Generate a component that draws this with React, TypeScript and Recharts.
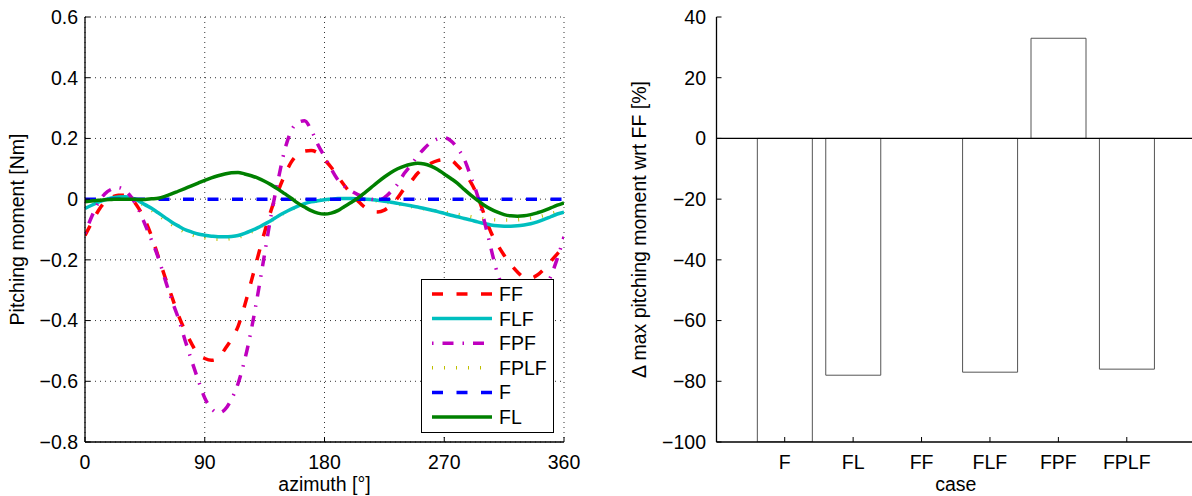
import React from 'react';
import {
  LineChart,
  Line,
  XAxis,
  YAxis,
  CartesianGrid,
  Legend,
  BarChart,
  Bar,
  ReferenceLine,
  Label,
} from 'recharts';

// ---------- Left panel data ----------
const AZIMUTH = [
  0, 5, 10, 15, 20, 25, 30, 35, 40, 45, 50, 55, 60, 65, 70, 75, 80, 85, 90, 95,
  100, 105, 110, 115, 120, 125, 130, 135, 140, 145, 150, 155, 160, 165, 170, 175,
  180, 185, 190, 195, 200, 205, 210, 215, 220, 225, 230, 235, 240, 245, 250, 255,
  260, 265, 270, 275, 280, 285, 290, 295, 300, 305, 310, 315, 320, 325, 330, 335,
  340, 345, 350, 355, 360,
];

const FF = [
  -0.12, -0.078, -0.038, -0.01, 0.006, 0.013, 0.013, 0.001, -0.028, -0.068,
  -0.122, -0.188, -0.255, -0.318, -0.38, -0.432, -0.475, -0.512, -0.525, -0.531,
  -0.525, -0.495, -0.462, -0.42, -0.35, -0.27, -0.188, -0.108, -0.035, 0.025,
  0.078, 0.122, 0.148, 0.158, 0.16, 0.152, 0.13, 0.105, 0.075, 0.045,
  0.018, -0.005, -0.026, -0.038, -0.042, -0.036, -0.02, 0.004, 0.035, 0.058,
  0.085, 0.103, 0.118, 0.127, 0.13, 0.128, 0.11, 0.085, 0.055, 0.01,
  -0.05, -0.108, -0.15, -0.185, -0.215, -0.24, -0.257, -0.26, -0.25, -0.23,
  -0.205, -0.18, -0.155,
];

const FLF = [
  -0.031, -0.02, -0.01, -0.002, 0.004, 0.007, 0.008, 0.004, -0.005, -0.018,
  -0.03, -0.045, -0.06, -0.075, -0.088, -0.1, -0.108, -0.115, -0.119, -0.122,
  -0.124, -0.124, -0.123, -0.12, -0.113, -0.104, -0.094, -0.082, -0.07, -0.056,
  -0.044, -0.033, -0.023, -0.015, -0.009, -0.005, -0.002, 0.0, 0.002, 0.002,
  0.002, 0.001, 0.0, -0.001, -0.004, -0.007, -0.01, -0.014, -0.018, -0.022,
  -0.026, -0.031, -0.036, -0.041, -0.047, -0.053, -0.058, -0.064, -0.069, -0.075,
  -0.08, -0.085, -0.088, -0.089, -0.089, -0.088, -0.085, -0.081, -0.075, -0.067,
  -0.058, -0.049, -0.043,
];

const FPF = [
  -0.113, -0.058, -0.012, 0.018, 0.033, 0.038, 0.028, 0.005, -0.032, -0.082,
  -0.135, -0.192, -0.262, -0.33, -0.39, -0.462, -0.53, -0.595, -0.655, -0.69,
  -0.704, -0.694, -0.66, -0.608, -0.53, -0.43, -0.31, -0.18, -0.05, 0.06,
  0.16, 0.225, 0.252, 0.258, 0.228, 0.18, 0.14, 0.1, 0.064, 0.042,
  0.027, 0.015, 0.006, 0.0, -0.003, 0.005, 0.025, 0.05, 0.085, 0.112,
  0.142, 0.167, 0.187, 0.198, 0.202, 0.192, 0.168, 0.132, 0.074, 0.012,
  -0.07, -0.16, -0.245, -0.295, -0.33, -0.35, -0.355, -0.35, -0.33, -0.3,
  -0.255, -0.195, -0.124,
];

const FPLF = [
  -0.025, -0.016, -0.008, -0.001, 0.004, 0.007, 0.007, 0.002, -0.008, -0.022,
  -0.036, -0.052, -0.068, -0.083, -0.096, -0.108, -0.117, -0.124, -0.128, -0.131,
  -0.132, -0.132, -0.13, -0.126, -0.118, -0.108, -0.097, -0.084, -0.071, -0.057,
  -0.045, -0.034, -0.024, -0.016, -0.01, -0.006, -0.003, -0.001, 0.0, 0.0,
  0.0, -0.001, -0.002, -0.004, -0.006, -0.009, -0.012, -0.016, -0.02, -0.024,
  -0.028, -0.032, -0.036, -0.04, -0.043, -0.046, -0.05, -0.054, -0.058, -0.062,
  -0.065, -0.067, -0.068, -0.069, -0.069, -0.068, -0.066, -0.063, -0.059, -0.054,
  -0.048, -0.042, -0.036,
];

const F = [
  0, 0, 0, 0, 0, 0, 0, 0, 0, 0, 0, 0, 0, 0, 0, 0, 0, 0, 0, 0, 0, 0, 0, 0, 0, 0,
  0, 0, 0, 0, 0, 0, 0, 0, 0, 0, 0, 0, 0, 0, 0, 0, 0, 0, 0, 0, 0, 0, 0, 0, 0, 0,
  0, 0, 0, 0, 0, 0, 0, 0, 0, 0, 0, 0, 0, 0, 0, 0, 0, 0, 0, 0, 0,
];

const FL = [
  -0.009, -0.006, -0.004, -0.002, -0.001, 0.0, 0.0, 0.0, -0.001, -0.001,
  0.001, 0.003, 0.009, 0.017, 0.026, 0.035, 0.044, 0.053, 0.062, 0.07,
  0.077, 0.083, 0.087, 0.088, 0.083, 0.077, 0.069, 0.059, 0.047, 0.033,
  0.018, 0.003, -0.013, -0.026, -0.038, -0.046, -0.049, -0.046, -0.038, -0.024,
  -0.011, 0.003, 0.02, 0.038, 0.056, 0.073, 0.088, 0.1, 0.109, 0.115,
  0.118, 0.116, 0.109, 0.098, 0.083, 0.068, 0.052, 0.032, 0.013, -0.004,
  -0.02, -0.033, -0.043, -0.051, -0.055, -0.056, -0.055, -0.051, -0.045, -0.038,
  -0.029, -0.02, -0.012,
];

const X_TICKS = [0, 90, 180, 270, 360];
const Y_TICKS = [-0.8, -0.6, -0.4, -0.2, 0, 0.2, 0.4, 0.6];

// ---------- Right panel data ----------
const CASES = ['F', 'FL', 'FF', 'FLF', 'FPF', 'FPLF'];
const DELTA = [-100, -78, 0, -77, 33, -76];
const BAR_Y_TICKS = [-100, -80, -60, -40, -20, 0, 20, 40];

const FONT = '"Liberation Sans", Arial, Helvetica, sans-serif';
const FS = 19.5;

const SERIES = [
  { key: 'FF', values: FF, color: '#ff0000', dash: '11 13.5' },
  { key: 'FLF', values: FLF, color: '#00bfbf', dash: undefined },
  { key: 'FPF', values: FPF, color: '#bf00bf', dash: '1.5 9 11 9' },
  { key: 'FPLF', values: FPLF, color: '#bfbf00', dash: '1 11' },
  { key: 'F', values: F, color: '#0000ff', dash: '11 13.5' },
  { key: 'FL', values: FL, color: '#008000', dash: undefined },
];
// drawing order (FPLF below FLF)
const DRAW_ORDER = ['FF', 'FPLF', 'FLF', 'FPF', 'F', 'FL'];

const lineData = AZIMUTH.map((az, i) => {
  const row: Record<string, number> = { az };
  SERIES.forEach((s) => {
    row[s.key] = s.values[i];
  });
  return row;
});

const barData = CASES.map((c, i) => ({ case: c, delta: DELTA[i] }));

const fmt = (v: number) => (v < 0 ? '\u2212' + String(Math.abs(v)) : String(v));

const tickStyle = { fill: '#000', fontSize: FS, fontFamily: FONT };
const axisLineStyle = { stroke: '#000', strokeWidth: 1.3 };
const tickLineStyle = { stroke: '#000', strokeWidth: 1 };

const renderLegend = () => {
  const top = 15;
  const step = 24.6;
  return (
    <div
      style={{
        width: 133,
        height: 154,
        border: '1.3px solid #000',
        boxSizing: 'border-box',
        background: '#fff',
      }}
    >
      <svg width={131} height={152} style={{ display: 'block' }}>
        {SERIES.map((s, i) => {
          const cy = top + i * step - 1;
          return (
            <g key={s.key}>
              <line
                x1={10}
                x2={70}
                y1={cy}
                y2={cy}
                stroke={s.color}
                strokeWidth={3.5}
                strokeDasharray={s.dash}
              />
              <text
                x={77}
                y={cy + 7}
                fontSize={FS}
                fontFamily={FONT}
                fill="#000"
              >
                {s.key}
              </text>
            </g>
          );
        })}
      </svg>
    </div>
  );
};

const xLabel = (text: string) => (props: any) => {
  const vb = props.viewBox || {};
  return (
    <text
      x={vb.x + vb.width / 2}
      y={vb.y + vb.height - 5}
      textAnchor="middle"
      fontSize={FS}
      fontFamily={FONT}
      fill="#000"
    >
      {text}
    </text>
  );
};

const yLabel = (text: string, dx: number) => (props: any) => {
  const vb = props.viewBox || {};
  const x = vb.x + dx;
  const y = vb.y + vb.height / 2;
  return (
    <text
      x={x}
      y={y}
      transform={`rotate(-90, ${x}, ${y})`}
      textAnchor="middle"
      fontSize={FS}
      fontFamily={FONT}
      fill="#000"
    >
      {text}
    </text>
  );
};

export default function App() {
  return (
    <div
      style={{
        position: 'absolute',
        left: 0,
        top: 0,
        width: 1192,
        height: 496,
        overflow: 'hidden',
        background: '#fff',
        fontFamily: FONT,
      }}
    >
      <div style={{ position: 'absolute', left: 0, top: 0 }}>
        <LineChart
          width={600}
          height={496}
          data={lineData}
          margin={{ top: 17, right: 36, bottom: 0, left: 0 }}
        >
          <CartesianGrid stroke="#333" strokeWidth={1} strokeDasharray="1 4" />
          <XAxis
            dataKey="az"
            type="number"
            domain={[0, 360]}
            ticks={X_TICKS}
            interval={0}
            height={54}
            tickSize={-5}
            tickMargin={18}
            tick={tickStyle}
            axisLine={axisLineStyle}
            tickLine={tickLineStyle}
            allowDataOverflow
          >
            <Label content={xLabel('azimuth [°]')} />
          </XAxis>
          <XAxis
            xAxisId="top"
            orientation="top"
            dataKey="az"
            type="number"
            domain={[0, 360]}
            ticks={X_TICKS}
            interval={0}
            height={0}
            tickSize={-5}
            tick={false}
            axisLine={axisLineStyle}
            tickLine={tickLineStyle}
            allowDataOverflow
          />
          <YAxis
            type="number"
            domain={[-0.8, 0.6]}
            ticks={Y_TICKS}
            interval={0}
            width={85}
            tickSize={-5}
            tickMargin={12}
            tick={tickStyle}
            tickFormatter={fmt}
            axisLine={axisLineStyle}
            tickLine={tickLineStyle}
            allowDataOverflow
          >
            <Label content={yLabel('Pitching moment [Nm]', 24)} />
          </YAxis>
          <YAxis
            yAxisId="right"
            orientation="right"
            type="number"
            domain={[-0.8, 0.6]}
            ticks={Y_TICKS}
            interval={0}
            width={0}
            tickSize={-5}
            tick={false}
            axisLine={axisLineStyle}
            tickLine={tickLineStyle}
            allowDataOverflow
          />
          {DRAW_ORDER.map((k) => {
            const s = SERIES.find((x) => x.key === k)!;
            return (
              <Line
                key={s.key}
                dataKey={s.key}
                type="monotone"
                stroke={s.color}
                strokeWidth={3.5}
                strokeDasharray={s.dash}
                dot={false}
                activeDot={false}
                isAnimationActive={false}
              />
            );
          })}
          <Legend
            layout="vertical"
            align="center"
            verticalAlign="middle"
            content={renderLegend}
            wrapperStyle={{
              position: 'absolute',
              left: 421,
              top: 279,
              width: 133,
              height: 154,
              margin: 0,
              padding: 0,
            }}
          />
        </LineChart>
      </div>
      <div style={{ position: 'absolute', left: 600, top: 0 }}>
        <BarChart
          width={600}
          height={496}
          data={barData}
          margin={{ top: 17, right: 5, bottom: 0, left: 0 }}
          barCategoryGap="10%"
        >
          <XAxis
            dataKey="case"
            type="category"
            padding={{ left: 34, right: 34 }}
            interval={0}
            height={54}
            tickSize={-5}
            tickMargin={18}
            tick={tickStyle}
            axisLine={axisLineStyle}
            tickLine={tickLineStyle}
          >
            <Label content={xLabel('case')} />
          </XAxis>
          <XAxis
            xAxisId="top"
            orientation="top"
            dataKey="case"
            type="category"
            padding={{ left: 34, right: 34 }}
            interval={0}
            height={0}
            tickSize={-5}
            tick={false}
            axisLine={axisLineStyle}
            tickLine={tickLineStyle}
          />
          <YAxis
            type="number"
            domain={[-100, 40]}
            ticks={BAR_Y_TICKS}
            interval={0}
            width={116.5}
            tickSize={-5}
            tickMargin={15.5}
            tick={tickStyle}
            tickFormatter={fmt}
            axisLine={axisLineStyle}
            tickLine={tickLineStyle}
            allowDataOverflow
          >
            <Label content={yLabel('\u0394 max pitching moment wrt FF [%]', 46)} />
          </YAxis>
          <YAxis
            yAxisId="right"
            orientation="right"
            type="number"
            domain={[-100, 40]}
            ticks={BAR_Y_TICKS}
            interval={0}
            width={0}
            tickSize={-5}
            tick={false}
            axisLine={axisLineStyle}
            tickLine={tickLineStyle}
            allowDataOverflow
          />
          <Bar
            dataKey="delta"
            fill="#fff"
            stroke="#555"
            strokeWidth={1}
            isAnimationActive={false}
          />
          <ReferenceLine y={0} stroke="#000" strokeWidth={1.3} />
        </BarChart>
      </div>
    </div>
  );
}
